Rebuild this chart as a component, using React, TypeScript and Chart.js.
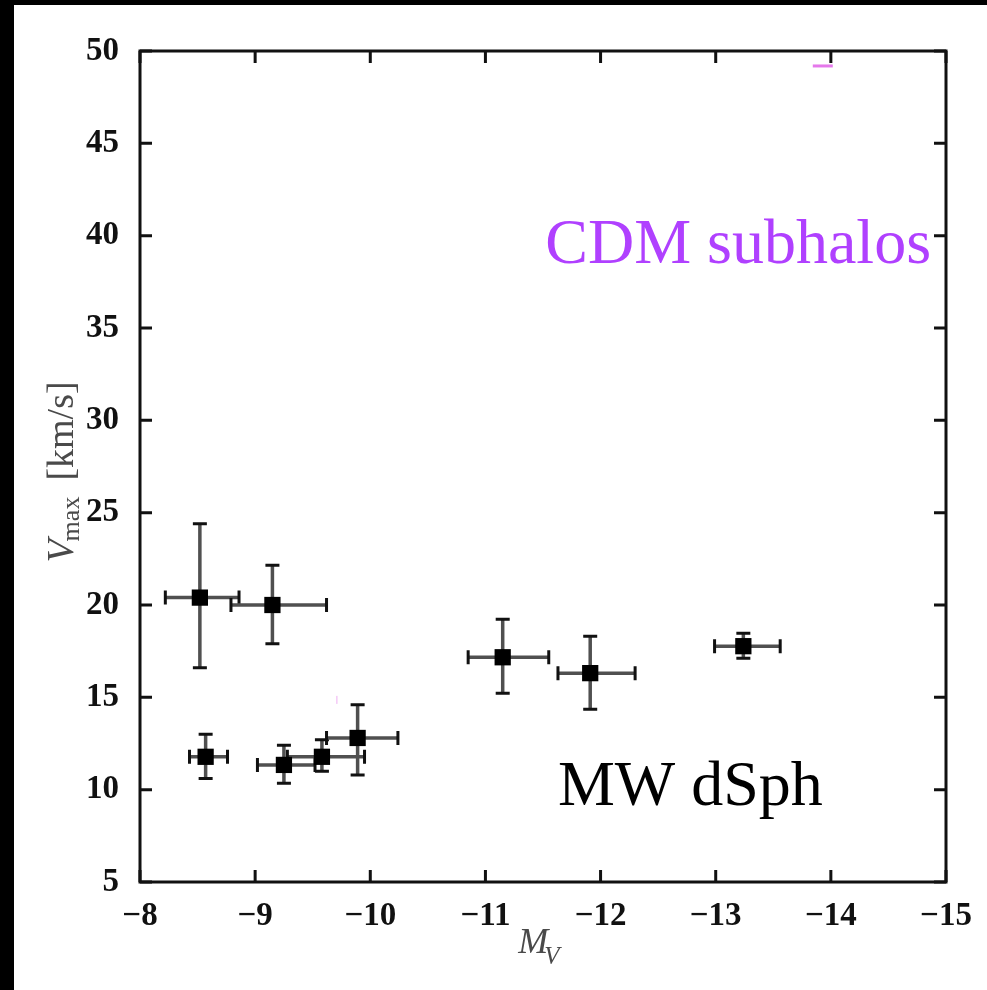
import React, { useEffect, useRef } from 'react';
import { Chart, registerables } from 'chart.js';

Chart.register(...registerables);

// Absolute magnitude M_V and V_max [km/s] of MW dSphs
const MV = [-8.52, -9.15, -8.57, -9.25, -9.58, -9.89, -11.15, -11.91, -13.24];
const VMAX = [20.4, 20.0, 11.78, 11.34, 11.78, 12.8, 17.17, 16.31, 17.77];
// horizontal error bar ends (faint end, bright end)
const MV_FAINT = [-8.22, -8.79, -8.43, -9.02, -9.28, -9.62, -10.85, -11.63, -12.99];
const MV_BRIGHT = [-8.86, -9.62, -8.76, -9.52, -9.95, -10.24, -11.55, -12.3, -13.56];
// vertical error bar ends
const V_HI = [24.4, 22.15, 13.0, 12.4, 12.7, 14.6, 19.23, 18.31, 18.47];
const V_LO = [16.6, 17.9, 10.6, 10.35, 11.0, 10.8, 15.22, 14.36, 17.12];

// faint CDM subhalo marks visible in the panel
const CDM_MV = [-13.93, -9.71];
const CDM_V = [49.19, 14.86];
const CDM_ROT = [0, 90];

const X_TICKS = [-8, -9, -10, -11, -12, -13, -14, -15];
const Y_TICKS = [5, 10, 15, 20, 25, 30, 35, 40, 45, 50];

// text annotations in data coordinates
const ANNOT_TEXT = ['CDM subhalos', 'MW dSph'];
const ANNOT_X = [-14.87, -11.63];
const ANNOT_Y = [38.52, 9.18];
const ANNOT_ALIGN: CanvasTextAlign[] = ['right', 'left'];
const ANNOT_COLOR = ['#b040ff', '#000000'];

const fmt = (v: number) => (v < 0 ? '\u2212' + Math.abs(v) : String(v));

const framePlugin = {
  id: 'frameTicks',
  beforeDatasetsDraw(chart: any) {
    const { ctx } = chart;
    const xs = chart.scales.x;
    const ys = chart.scales.y;
    ctx.save();
    const cap = 7;
    for (let i = 0; i < MV.length; i++) {
      const px = xs.getPixelForValue(MV[i]);
      const py = ys.getPixelForValue(VMAX[i]);
      const x1 = xs.getPixelForValue(MV_FAINT[i]);
      const x2 = xs.getPixelForValue(MV_BRIGHT[i]);
      const y1 = ys.getPixelForValue(V_HI[i]);
      const y2 = ys.getPixelForValue(V_LO[i]);
      ctx.strokeStyle = '#505050';
      ctx.lineWidth = 3.5;
      ctx.beginPath();
      ctx.moveTo(x1, py); ctx.lineTo(x2, py);
      ctx.moveTo(px, y1); ctx.lineTo(px, y2);
      ctx.stroke();
      ctx.strokeStyle = '#111';
      ctx.lineWidth = 3;
      ctx.beginPath();
      ctx.moveTo(x1, py - cap); ctx.lineTo(x1, py + cap);
      ctx.moveTo(x2, py - cap); ctx.lineTo(x2, py + cap);
      ctx.moveTo(px - cap, y1); ctx.lineTo(px + cap, y1);
      ctx.moveTo(px - cap, y2); ctx.lineTo(px + cap, y2);
      ctx.stroke();
    }
    ctx.restore();
  },
  afterDraw(chart: any) {
    const { ctx, chartArea: a } = chart;
    const xs = chart.scales.x;
    const ys = chart.scales.y;
    ctx.save();
    // frame
    ctx.strokeStyle = '#111';
    ctx.lineWidth = 3;
    ctx.strokeRect(a.left, a.top, a.right - a.left, a.bottom - a.top);
    // inward ticks
    const tl = 12;
    ctx.beginPath();
    X_TICKS.forEach((v) => {
      const p = xs.getPixelForValue(v);
      ctx.moveTo(p, a.bottom); ctx.lineTo(p, a.bottom - tl);
      ctx.moveTo(p, a.top); ctx.lineTo(p, a.top + tl);
    });
    Y_TICKS.forEach((v) => {
      const p = ys.getPixelForValue(v);
      ctx.moveTo(a.left, p); ctx.lineTo(a.left + tl, p);
      ctx.moveTo(a.right, p); ctx.lineTo(a.right - tl, p);
    });
    ctx.stroke();

    // annotations
    ctx.font = '64px "Liberation Serif", "Times New Roman", serif';
    ctx.textBaseline = 'alphabetic';
    ANNOT_TEXT.forEach((t, i) => {
      ctx.fillStyle = ANNOT_COLOR[i];
      ctx.textAlign = ANNOT_ALIGN[i];
      ctx.fillText(t, xs.getPixelForValue(ANNOT_X[i]), ys.getPixelForValue(ANNOT_Y[i]));
    });

    // y-axis title: V_max [km/s]
    ctx.fillStyle = '#4a4a4a';
    ctx.textAlign = 'left';
    const fMain = 'italic 38px "Liberation Serif", serif';
    const fSub = '26px "Liberation Serif", serif';
    const fReg = '38px "Liberation Serif", serif';
    ctx.font = fMain; const wV = ctx.measureText('V').width;
    ctx.font = fSub; const wMax = ctx.measureText('max').width;
    ctx.font = fReg; const wUnit = ctx.measureText('[km/s]').width;
    const gap = 14;
    const total = wV + wMax + gap + wUnit;
    ctx.translate(73, 472);
    ctx.rotate(-Math.PI / 2);
    let cx = -total / 2;
    ctx.font = fMain; ctx.fillText('V', cx, 0); cx += wV - 2;
    ctx.font = fSub; ctx.fillText('max', cx, 6); cx += wMax + gap + 2;
    ctx.font = fReg; ctx.fillText('[km/s]', cx, 0);
    ctx.setTransform(1, 0, 0, 1, 0, 0);

    // x-axis title: M_V
    const fM = 'italic 36px "Liberation Serif", serif';
    const fVs = 'italic 25px "Liberation Serif", serif';
    ctx.font = fM; const wM = ctx.measureText('M').width;
    ctx.font = fVs; const wVs = ctx.measureText('V').width;
    let mx = 541 - (wM + wVs) / 2;
    ctx.font = fM; ctx.fillText('M', mx, 953); mx += wM - 4;
    ctx.font = fVs; ctx.fillText('V', mx, 964);
    ctx.restore();
  },
};

export default function App() {
  const ref = useRef<HTMLCanvasElement | null>(null);
  useEffect(() => {
    document.body.style.margin = '0';
    const canvas = ref.current!;
    const tickFont = { family: '"Liberation Serif", serif', size: 33, weight: 'bold' };
    const chart = new Chart(canvas, {
      type: 'scatter',
      data: {
        datasets: [
          {
            label: 'MW dSph',
            data: MV.map((x, i) => ({ x, y: VMAX[i] })),
            pointStyle: 'rect',
            radius: 11.5,
            backgroundColor: '#000',
            borderColor: '#000',
            borderWidth: 0,
          },
          {
            label: 'CDM subhalos',
            data: CDM_MV.map((x, i) => ({ x, y: CDM_V[i] })),
            pointStyle: 'line',
            radius: [10, 4],
            rotation: CDM_ROT,
            borderColor: ['rgba(224,96,232,0.85)', 'rgba(224,96,232,0.5)'],
            borderWidth: [3, 1],
          },
        ],
      },
      options: {
        animation: false,
        responsive: false,
        devicePixelRatio: 1,
        layout: { padding: { top: 51, right: 41, left: 0, bottom: 0 } },
        plugins: { legend: { display: false }, tooltip: { enabled: false } },
        scales: {
          x: {
            type: 'linear',
            min: -15,
            max: -8,
            reverse: true,
            grid: { display: false },
            border: { display: false },
            afterFit: (s: any) => { s.height = 108; },
            afterBuildTicks: (s: any) => { s.ticks = X_TICKS.map((v) => ({ value: v })); },
            ticks: {
              padding: 7,
              color: '#111',
              font: tickFont,
              callback: (v: any) => fmt(Number(v)),
              maxRotation: 0,
              autoSkip: false,
            },
          },
          y: {
            type: 'linear',
            min: 5,
            max: 50,
            grid: { display: false },
            border: { display: false },
            afterFit: (s: any) => { s.width = 140; },
            afterBuildTicks: (s: any) => { s.ticks = Y_TICKS.map((v) => ({ value: v })); },
            ticks: {
              padding: 13,
              color: '#111',
              font: tickFont,
              callback: (v: any) => fmt(Number(v)),
              autoSkip: false,
            },
          },
        },
      },
      plugins: [framePlugin],
    } as any);
    return () => chart.destroy();
  }, []);

  return (
    <div style={{ position: 'fixed', left: 0, top: 0, width: 987, height: 990, background: '#000' }}>
      <div style={{ position: 'absolute', left: 14, top: 5, right: 0, bottom: 0, background: '#fff' }} />
      <canvas ref={ref} width={987} height={990} style={{ position: 'absolute', left: 0, top: 0 }} />
    </div>
  );
}
